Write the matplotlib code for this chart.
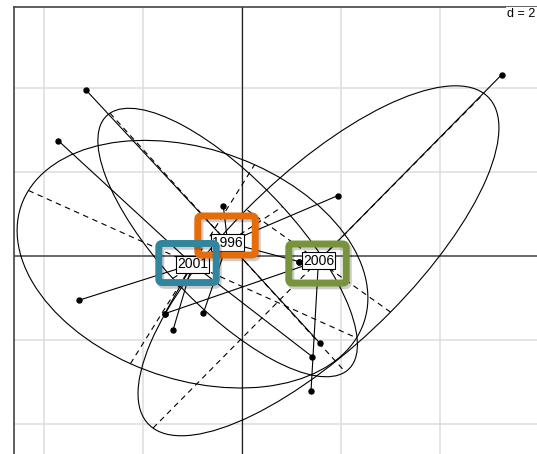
import numpy as np
import matplotlib.pyplot as plt
from matplotlib.patches import Ellipse, FancyBboxPatch
import matplotlib.patheffects as pe

plt.rcParams['font.family'] = ['Liberation Sans', 'DejaVu Sans']

years = ["1996", "2001", "2006"]
box_colors = ["#e46c0a", "#31859c", "#77933c"]

# site scores on the first two axes, one list per year
x_1996 = [-3.152, -0.378, 1.933, 1.576, -0.782, 1.158]
y_1996 = [3.952, 1.198, 1.436, -2.079, -1.364, -0.136]
x_2001 = [-3.711, -3.299, -1.394, 1.420, -1.562]
y_2001 = [2.745, -1.055, -1.769, -2.398, -1.374]
x_2006 = [5.246, -1.562, 1.394, 1.158]
y_2006 = [4.317, -1.374, -3.221, -0.136]

# class centres
cx = [-0.29, -1.0, 1.545]
cy = [0.321, -0.195, -0.114]

# inertia ellipses: half axes and orientation (degrees)
ell_a = [3.89, 3.75, 5.2]
ell_b = [1.4, 2.68, 1.9]
ell_angle = [-52.35, -27.9, 50.0]

grid_d = 2

xs = [x_1996, x_2001, x_2006]
ys = [y_1996, y_2001, y_2006]

fig = plt.figure(figsize=(5.37, 4.54), dpi=100)
ax = fig.add_axes([14 / 537, 1 - 484 / 454, 553 / 537, 477 / 454])
ax.set_xlim((14 - 242) / 49.5, (567 - 242) / 49.5)
ax.set_ylim((256 - 484) / 42, (256 - 7) / 42)

# grid
for g in np.arange(-6, 8, grid_d):
    ax.axvline(g, color="#dcdcdc", lw=1.1, zorder=0)
    ax.axhline(g, color="#dcdcdc", lw=1.1, zorder=0)
ax.axvline(0, color="#222222", lw=0.9, zorder=1)
ax.axhline(0, color="#555555", lw=1.2, zorder=1)

for i in range(3):
    x0, y0 = cx[i], cy[i]
    a, b = ell_a[i], ell_b[i]
    t = np.deg2rad(ell_angle[i])

    ax.add_patch(Ellipse((x0, y0), 2 * a, 2 * b, angle=ell_angle[i],
                         fill=False, ec="black", lw=0.8, zorder=2))
    ux, uy = np.cos(t), np.sin(t)
    vx, vy = -np.sin(t), np.cos(t)
    ax.plot([x0 - a * ux, x0 + a * ux], [y0 - a * uy, y0 + a * uy],
            color="black", lw=0.8, ls=(0, (5, 4)), zorder=2)
    ax.plot([x0 - b * vx, x0 + b * vx], [y0 - b * vy, y0 + b * vy],
            color="black", lw=0.8, ls=(0, (5, 4)), zorder=2)

    # star: each site linked to its year centre
    for px, py in zip(xs[i], ys[i]):
        ax.plot([x0, px], [y0, py], color="black", lw=0.8, zorder=3)
    ax.plot(xs[i], ys[i], "o", color="black", ms=3.6, zorder=4)

    ax.text(x0, y0, years[i], ha="center", va="center", fontsize=10, zorder=5,
            bbox=dict(boxstyle="square,pad=0.1", fc="white", ec="black", lw=0.8))

# highlight frames around the year labels
box_dx = [-0.023, -0.101, -0.02]
box_dy = [0.167, 0.028, -0.065]
box_w, box_h = 1.16, 0.93
for i in range(3):
    bx = cx[i] + box_dx[i] - box_w / 2
    by = cy[i] + box_dy[i] - box_h / 2
    frame = FancyBboxPatch((bx, by), box_w, box_h,
                           boxstyle="round,pad=0,rounding_size=0.07",
                           mutation_aspect=49.5 / 42,
                           fill=False, ec=box_colors[i], lw=5.0, zorder=6 + i)
    frame.set_path_effects([pe.SimpleLineShadow(offset=(1.5, -2), shadow_color="black", alpha=0.2),
                            pe.Normal()])
    ax.add_patch(frame)

ax.text((507 - 242) / 49.5, (256 - 14) / 42, "d = %d" % grid_d, fontsize=9,
        ha="left", va="center", zorder=9,
        bbox=dict(boxstyle="square,pad=0.1", fc="white", ec="none"))

ax.set_xticks([])
ax.set_yticks([])
for s in ["top", "left", "right", "bottom"]:
    ax.spines[s].set_color("#444444")
    ax.spines[s].set_linewidth(1.2)

fig.savefig("out.png", dpi=100)
